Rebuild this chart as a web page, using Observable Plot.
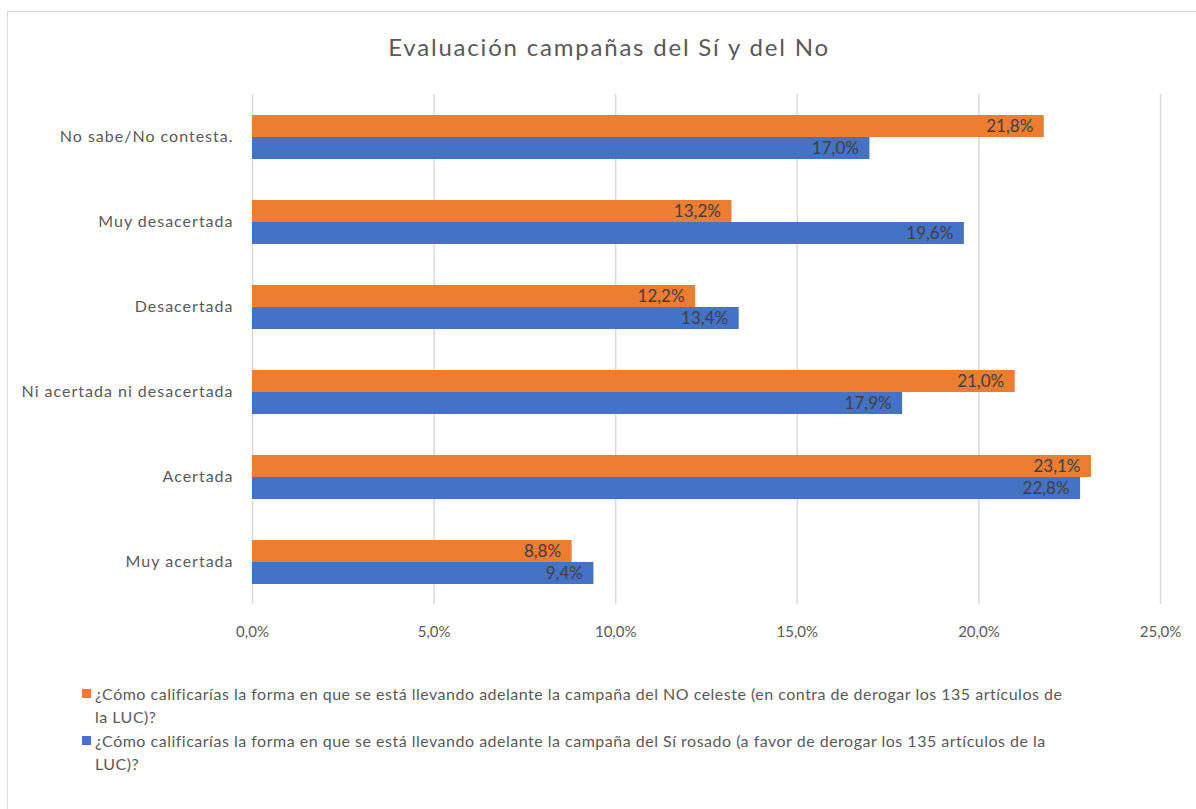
<!DOCTYPE html>
<html lang="es">
<head>
<meta charset="utf-8">
<script src="https://cdn.jsdelivr.net/npm/d3@7"></script>
<script src="https://cdn.jsdelivr.net/npm/@observablehq/plot@0.6"></script>
<style>
  html, body { margin: 0; padding: 0; background: #ffffff; }
  body { width: 1196px; height: 809px; overflow: hidden; position: relative; font-family: Lato, "Open Sans", sans-serif; color: #595959; }
  #frame { position: absolute; left: 7px; top: 11px; width: 1210px; height: 830px; border: 1.5px solid #d9d9d9; box-sizing: border-box; }
  #title { position: absolute; left: 0; top: 35px; width: 1218px; text-align: center; font-size: 24px; line-height: 24px; letter-spacing: 1.8px; white-space: nowrap; }
  #chart { position: absolute; left: 0; top: 0; }
  #chart g[aria-label^="fy-axis"] text { font-size: 16px; letter-spacing: 1px; }
  .legend-item { position: absolute; left: 82px; display: flex; align-items: flex-start; font-size: 16px; line-height: 23px; letter-spacing: 0.5px; }
  .swatch { width: 9px; height: 9px; margin-top: 7px; margin-right: 4px; flex: none; }
  .legend-text span { display: block; white-space: nowrap; }
</style>
</head>
<body>
<div id="frame"></div>
<div id="title">Evaluación campañas del Sí y del No</div>
<div id="chart"></div>
<div id="legend"></div>
<script>
// Survey answers (percent of respondents) for each campaign
const categories = [
  "No sabe/No contesta.",
  "Muy desacertada",
  "Desacertada",
  "Ni acertada ni desacertada",
  "Acertada",
  "Muy acertada"
];
const seriesKeys = ["no", "si"];
const noValues = [21.8, 13.2, 12.2, 21.0, 23.1, 8.8];
const siValues = [17.0, 19.6, 13.4, 17.9, 22.8, 9.4];
const seriesColors = ["#ED7D31", "#4472C4"];
const xTicks = [0, 5, 10, 15, 20, 25];
const legendLines = [
  ["¿Cómo calificarías la forma en que se está llevando adelante la campaña del NO celeste (en contra de derogar los 135 artículos de", "la LUC)?"],
  ["¿Cómo calificarías la forma en que se está llevando adelante la campaña del Sí rosado (a favor de derogar los 135 artículos de la", "LUC)?"]
];

const pct = d => d.toFixed(1).replace(".", ",") + "%";

const rows = [];
categories.forEach((c, i) => {
  rows.push({category: c, series: "no", value: noValues[i]});
  rows.push({category: c, series: "si", value: siValues[i]});
});

const chart = Plot.plot({
  width: 1196,
  height: 660,
  marginLeft: 252,
  marginRight: 36,
  marginTop: 92,
  marginBottom: 55,
  style: {fontFamily: "Lato, 'Open Sans', sans-serif", fontSize: "15px", color: "#595959", background: "transparent", overflow: "visible"},
  facet: {data: rows, y: "category"},
  fy: {domain: categories, padding: 0, axis: "left", tickSize: 0, tickPadding: 19, label: null},
  x: {domain: [0, 25], ticks: xTicks, tickSize: 0, tickPadding: 22, tickFormat: pct, label: null},
  y: {domain: seriesKeys, paddingInner: 0, paddingOuter: 0.9, axis: null},
  color: {domain: seriesKeys, range: seriesColors},
  marks: [
    Plot.ruleX(xTicks, {x: d => d, stroke: "#d9d9d9", strokeWidth: 1.5}),
    Plot.barX(rows, {x: "value", y: "series", fill: "series"}),
    Plot.text(rows, {
      x: "value",
      y: "series",
      text: d => pct(d.value),
      textAnchor: "end",
      dx: -11,
      fill: "#404040",
      fontSize: 17
    })
  ]
});
document.getElementById("chart").appendChild(chart);

// Legend below the plot
const legend = document.getElementById("legend");
const legendTops = [682, 729];
legendLines.forEach((lines, i) => {
  const item = document.createElement("div");
  item.className = "legend-item";
  item.style.top = legendTops[i] + "px";
  const sw = document.createElement("div");
  sw.className = "swatch";
  sw.style.background = seriesColors[i];
  const txt = document.createElement("div");
  txt.className = "legend-text";
  lines.forEach(l => {
    const s = document.createElement("span");
    s.textContent = l;
    txt.appendChild(s);
  });
  item.appendChild(sw);
  item.appendChild(txt);
  legend.appendChild(item);
});
</script>
</body>
</html>
